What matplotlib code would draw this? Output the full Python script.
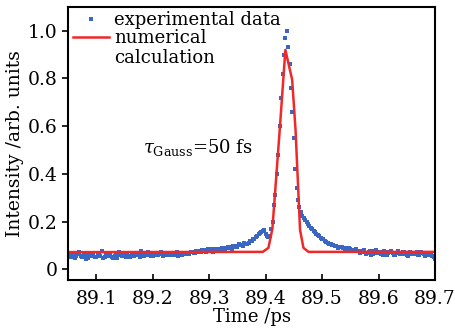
import numpy as np
import matplotlib
matplotlib.use('Agg')
import matplotlib.pyplot as plt

plt.rcParams['font.family'] = 'DejaVu Serif'
plt.rcParams['mathtext.fontset'] = 'dejavuserif'

# experimental data, two interleaved scans sampled every 5 fs
exp_t0 = 89.05
exp_dt = 0.005
exp_int = [
    0.058, 0.050, 0.062, 0.055, 0.074, 0.052, 0.060, 0.048, 0.057, 0.065,
    0.053, 0.059, 0.075, 0.051, 0.056, 0.062, 0.049, 0.058, 0.072, 0.054,
    0.060,
    0.063, 0.052, 0.058, 0.066, 0.061, 0.076, 0.057, 0.064, 0.060, 0.055,
    0.067, 0.062, 0.074, 0.058, 0.063, 0.060, 0.069, 0.061, 0.057, 0.066,
    0.064, 0.070, 0.066, 0.072, 0.068, 0.075, 0.071, 0.080, 0.073, 0.077,
    0.083, 0.076, 0.085, 0.081, 0.078, 0.088,
    0.092, 0.086, 0.097, 0.094, 0.102, 0.098, 0.108, 0.112, 0.118, 0.125,
    0.140, 0.152, 0.160, 0.148,
    0.135, 0.17, 0.27, 0.40, 0.60, 0.82, 0.97, 0.93, 0.76, 0.55,
    0.34, 0.26, 0.225, 0.205, 0.19, 0.175, 0.162, 0.15, 0.14, 0.128,
    0.12, 0.112, 0.105, 0.10, 0.096, 0.092, 0.095, 0.087, 0.090, 0.083,
    0.080, 0.084,
    0.078, 0.072, 0.080, 0.068, 0.075, 0.064, 0.079, 0.070, 0.066, 0.077,
    0.062, 0.073, 0.069, 0.060, 0.076, 0.065, 0.071, 0.058, 0.074, 0.063,
    0.068, 0.059, 0.072, 0.066, 0.061, 0.070, 0.056, 0.042,
]
exp_int2 = [
    0.052, 0.061, 0.047, 0.066, 0.054, 0.058, 0.045, 0.063, 0.056, 0.050,
    0.069, 0.055, 0.047, 0.060, 0.064, 0.052, 0.057, 0.046, 0.061, 0.066,
    0.053,
    0.057, 0.068, 0.054, 0.060, 0.050, 0.064, 0.059, 0.071, 0.056, 0.062,
    0.058, 0.065, 0.055, 0.069, 0.061, 0.066, 0.058, 0.072, 0.063, 0.060,
    0.069, 0.065, 0.074, 0.070, 0.078, 0.072, 0.082, 0.076, 0.084, 0.079,
    0.074, 0.087, 0.082, 0.090, 0.085, 0.093,
    0.088, 0.099, 0.093, 0.104, 0.100, 0.110, 0.106, 0.120, 0.128, 0.136,
    0.150, 0.158, 0.165, 0.140,
    0.14, 0.20, 0.31, 0.48, 0.72, 0.90, 1.0, 0.86, 0.66, 0.42,
    0.29, 0.24, 0.215, 0.20, 0.18, 0.17, 0.155, 0.145, 0.13, 0.125,
    0.115, 0.108, 0.10, 0.098, 0.09, 0.094, 0.088, 0.085, 0.089, 0.082,
    0.079, 0.076,
    0.070, 0.076, 0.066, 0.073, 0.062, 0.078, 0.068, 0.074, 0.060, 0.071,
    0.067, 0.075, 0.058, 0.069, 0.063, 0.073, 0.066, 0.057, 0.070, 0.064,
    0.072, 0.061, 0.067, 0.055, 0.065, 0.059, 0.050,
]
exp_time = exp_t0 + exp_dt * np.arange(len(exp_int))
exp_time2 = exp_t0 + exp_dt / 2 + exp_dt * np.arange(len(exp_int2))

# numerical calculation
calc_time = [89.05, 89.395, 89.405, 89.412, 89.425, 89.435, 89.447,
             89.453, 89.461, 89.467, 89.476, 89.70]
calc_int = [0.072, 0.073, 0.09, 0.17, 0.585, 0.92, 0.795,
            0.585, 0.165, 0.09, 0.073, 0.073]

x_ticks = [89.1, 89.2, 89.3, 89.4, 89.5, 89.6, 89.7]
y_ticks = [0, 0.2, 0.4, 0.6, 0.8, 1.0]
y_ticklabels = ['0', '0.2', '0.4', '0.6', '0.8', '1.0']

fig = plt.figure(figsize=(4.55, 3.31), dpi=100)
ax = fig.add_axes([0.1495, 0.154, 0.8065, 0.825])

blue = '#3a66c4'
ax.plot(exp_time, exp_int, 's', ms=2.2, mew=0, color=blue,
        label='experimental data')
ax.plot(exp_time2, exp_int2, 's', ms=2.2, mew=0, color=blue)
ax.plot(calc_time, calc_int, '-', color='#f02828', lw=1.8, label='numerical')

ax.set_xlim(89.05, 89.70)
ax.set_ylim(-0.045, 1.10)
ax.set_xticks(x_ticks)
ax.set_yticks(y_ticks)
ax.set_yticklabels(y_ticklabels)
ax.tick_params(axis='x', direction='in', length=4, width=1.2, labelsize=13.5, pad=7)
ax.tick_params(axis='y', direction='out', length=4, width=1.2, labelsize=13.5)
for s in ax.spines.values():
    s.set_linewidth(1.5)

ax.set_xlabel('Time /ps', fontsize=13, labelpad=0)
ax.set_ylabel('Intensity /arb. units', fontsize=13.5, labelpad=3)

ax.text(89.183, 0.51, r'$\tau_{\rm Gauss}$=50 fs', fontsize=13, va='center')

leg = ax.legend(loc='upper left', frameon=False, fontsize=13,
                handlelength=2.0, handletextpad=0.3, labelspacing=0.0,
                borderaxespad=0.1, borderpad=0.15, markerscale=1.2)

# second line of the "numerical calculation" label
fig.canvas.draw()
tb = leg.get_texts()[1].get_window_extent()
inv = ax.transAxes.inverted()
x0, y0 = inv.transform((tb.x0, tb.y0))
ax.text(x0, y0 - 0.005, 'calculation', transform=ax.transAxes,
        fontsize=13, va='top', ha='left')

fig.savefig('out.png', dpi=100)
